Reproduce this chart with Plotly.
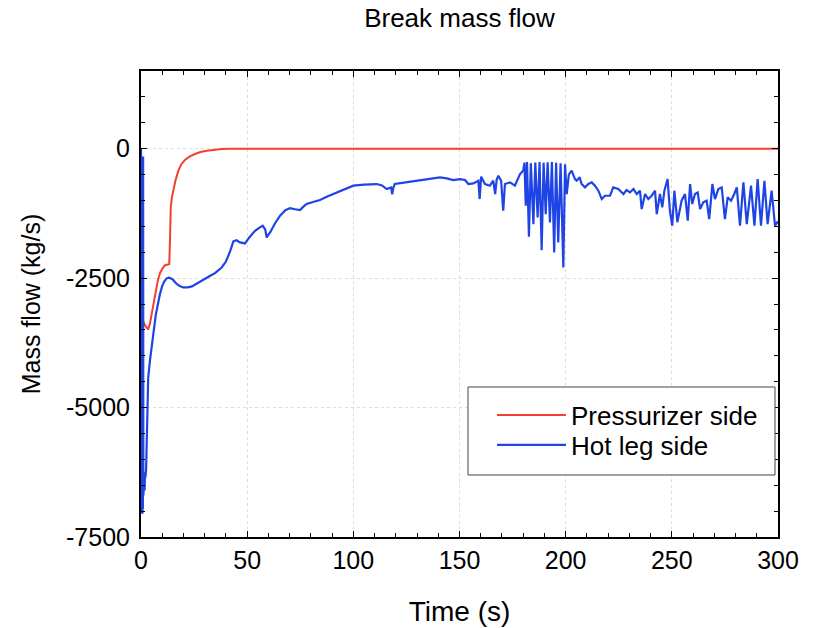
import plotly.graph_objects as go

# ---- data ----
press_t = [0, 0.2, 0.6, 1.2, 2.0, 2.8, 3.4, 4.2, 5.0, 6.0, 7.0, 8.0, 9.0, 10.0, 11.3, 12.5, 13.3,
           13.7, 14.0, 14.5, 15.2, 16.2, 17.6, 19.0, 20.7, 23.0, 25.4, 28.0, 30.9, 34.0, 38.0, 42.0,
           50, 100, 150, 200, 250, 300]
press_v = [0, -2900, -3250, -3350, -3420, -3470, -3490, -3380, -3200, -2950, -2720, -2530, -2400,
           -2320, -2250, -2235, -2230, -1700, -1150, -950, -810, -620, -425, -300, -219, -150, -103,
           -65, -39, -20, -6, 0, 0, 0, 0, 0, 0, 0]

hot_t = [0, 0.3, 0.4, 0.5, 0.6, 0.7, 0.8, 0.9, 1.0, 1.1, 1.3, 1.5, 1.7, 1.9, 2.1, 2.4, 2.7,
         3.0, 3.4, 4.2,
         5.0, 5.8, 7.0, 8.0, 8.9, 10.0, 11.0, 12.0, 13.0, 13.7, 15.0, 16.5, 18.0, 19.9, 22.0, 24.0,
         26.5, 29.3, 32.0, 35.0, 38.0, 40.0, 42.0, 43.5, 45.0, 46.6, 49.0, 51.0, 53.7, 56.0, 57.3,
         58.5, 59.2, 60.0, 60.8, 63.0, 65.5, 68.0, 70.2, 72.5, 74.9, 76.5, 78.0, 81.0, 84.3, 88.0,
         92.2, 96.0, 100.0, 105.0, 111.0, 113.5, 115.7, 117.8, 118.3, 118.8, 119.5, 123.0, 128.3,
         134.0, 140.8, 144.0, 147.1, 150.2, 152.6, 154.2, 156.5, 158.9, 159.5, 160.2, 162.0, 164.3,
         165.9, 166.8, 167.5, 168.3, 169.6, 170.6, 171.4, 173.8, 176.1, 178.5, 180.0,
         180.6, 181.2, 181.8, 182.7, 183.6, 184.8, 185.7, 186.8, 187.7, 188.7, 189.6, 190.6, 191.5,
         192.6, 193.5, 194.6, 195.5, 196.5, 197.6, 198.9, 199.7, 200.5, 201.5, 202.8, 204.4, 205.2,
         206.6, 207.5, 209.1, 210.7, 212.3, 213.8, 215.4, 217.0, 218.5, 220.9, 222.4, 224.8, 227.2,
         228.7, 230.3, 231.9, 233.5, 235.0, 235.8, 237.4, 238.9, 240.5, 242.1, 242.9, 244.4, 245.5,
         246.5, 248.0, 249.1, 250.2, 251.2, 252.6, 254.6, 256.2, 257.5, 258.6, 259.6, 260.9, 262.2,
         263.3, 264.8, 266.4, 267.6, 269.1, 270.3, 271.9, 273.5, 275.0, 276.3, 277.9, 279.4, 280.6,
         282.1, 283.7, 285.3, 287.3, 288.9, 290.4, 292.0, 293.6, 295.1, 297.0, 298.6, 300.0]
hot_v = [0, -7050, -200, -7000, -300, -7050, -250, -6950, -150, -6700, -6550, -6400, -6600,
         -6250, -6350, -6200, -5600, -4700, -4420, -4100,
         -3800, -3580, -3200, -2950, -2810, -2650, -2560, -2510, -2490,
         -2500, -2530, -2600, -2650, -2680, -2680, -2660, -2600, -2520, -2470, -2400, -2295, -2180,
         -1980, -1790, -1770, -1811, -1830, -1715, -1585, -1520, -1489, -1560, -1715, -1660, -1618,
         -1450, -1295, -1190, -1147, -1170, -1185, -1120, -1069, -1030, -992, -920, -845, -780,
         -715, -695, -683, -710, -780, -748, -880, -760, -683, -660, -632, -595, -554, -575, -606,
         -587, -606, -683, -670, -619, -973, -541, -683, -715, -619, -876, -600, -522, -620, -1199,
         -683, -651, -715, -490, -425,
         -270, -1102, -260, -1702, -280, -1457, -270, -1328, -260, -1960, -270, -1264, -265,
         -1424, -260, -2005, -270, -1811, -280, -2295, -300, -876, -500, -425, -587, -619,
         -554, -683, -748, -683, -651, -715, -812, -973, -909, -909, -748, -780, -876,
         -799, -845, -780, -876, -812, -1166, -876, -973, -909, -812, -1263, -876, -1134,
         -812, -587, -1199, -1489, -812, -1420, -1005, -876, -1392, -683, -1069, -876, -845,
         -1166, -1037, -1005, -1360, -683, -973, -780, -748, -1360, -941, -1005, -876, -748,
         -1489, -651, -1457, -715, -1489, -587, -1489, -619, -1457, -812, -1489, -1400]

x_ticks = [0, 50, 100, 150, 200, 250, 300]
y_ticks = [-7500, -5000, -2500, 0]
y_tick_text = ["-7500", "-5000", "-2500", "0"]

FONT = "Liberation Sans, Arial, sans-serif"

fig = go.Figure()
fig.add_trace(go.Scatter(x=press_t, y=press_v, mode="lines", name="Pressurizer side",
                         line=dict(color="#f2402c", width=2), legend="legend"))
fig.add_trace(go.Scatter(x=hot_t, y=hot_v, mode="lines", name="Hot leg side",
                         line=dict(color="#1f44e6", width=2.2), legend="legend2"))

axis_common = dict(
    showline=True, linecolor="black", linewidth=2, mirror="ticks",
    ticks="inside", ticklen=6, tickwidth=1, tickcolor="black",
    showgrid=True, gridcolor="#dcdcdc", griddash="dot", gridwidth=1,
    zeroline=False, automargin=False,
    tickfont=dict(family=FONT, size=25, color="black"),
)

fig.update_xaxes(range=[0, 300], tickvals=x_ticks,
                 minor=dict(dtick=10, ticks="inside", ticklen=4, tickcolor="black", showgrid=False),
                 title=dict(text="Time (s)", font=dict(family=FONT, size=28, color="black"), standoff=28),
                 **axis_common)
fig.update_yaxes(range=[-7500, 1500], tickvals=y_ticks, ticktext=y_tick_text,
                 ticklabelstandoff=4,
                 minor=dict(dtick=500, ticks="inside", ticklen=4, tickcolor="black", showgrid=False),
                 title=dict(text="Mass flow (kg/s)", font=dict(family=FONT, size=25, color="black"), standoff=18),
                 **axis_common)

fig.add_shape(type="rect", xref="paper", yref="paper",
              x0=(468 - 141) / 637, x1=(775 - 141) / 637,
              y0=(537 - 475) / 466, y1=(537 - 387) / 466,
              line=dict(color="#444444", width=1), fillcolor="white", layer="above")

legend_common = dict(xanchor="left", yanchor="middle", bgcolor="rgba(0,0,0,0)", borderwidth=0,
                     itemwidth=69, font=dict(family=FONT, size=26, color="black"))

fig.update_layout(
    width=814, height=628,
    margin=dict(l=141, r=36, t=71, b=91),
    paper_bgcolor="white", plot_bgcolor="white",
    title=dict(text="Break mass flow", x=0.5, xref="paper", y=1 - 18 / 628, yanchor="middle",
               font=dict(family=FONT, size=26, color="black")),
    showlegend=True,
    legend=dict(x=(492 - 141) / 637, y=(537 - 415) / 466, **legend_common),
    legend2=dict(x=(492 - 141) / 637, y=(537 - 445) / 466, **legend_common),
)

fig.write_html("out.html")
